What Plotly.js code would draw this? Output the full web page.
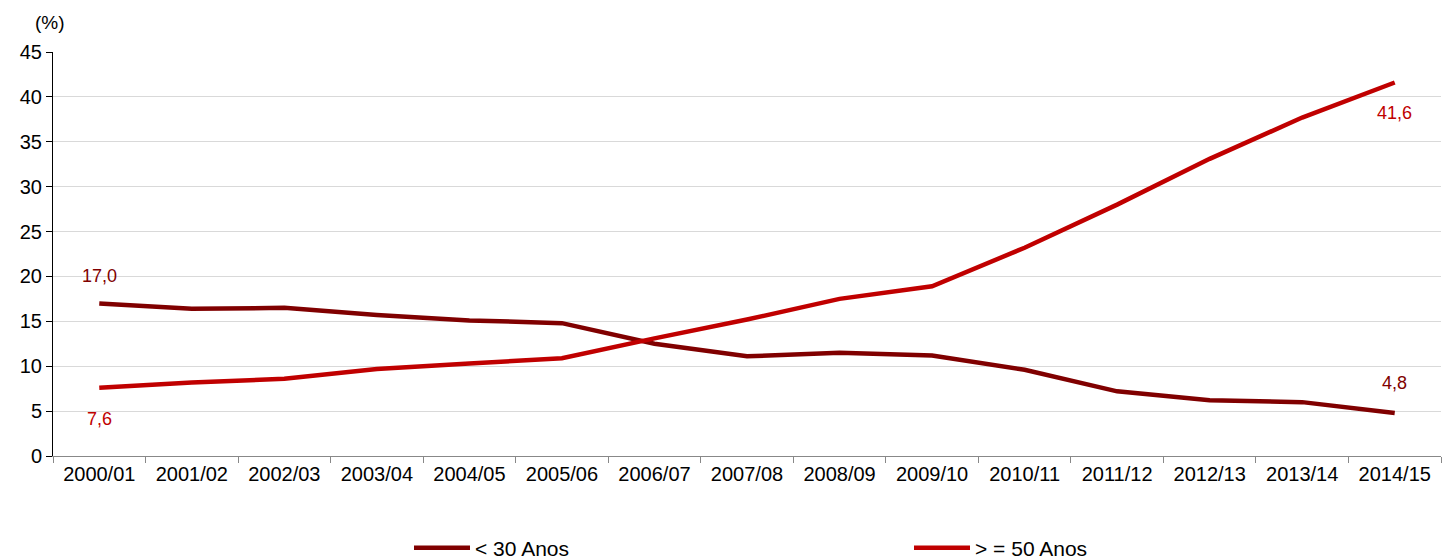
<!DOCTYPE html>
<html>
<head>
<meta charset="utf-8">
<script src="https://cdn.plot.ly/plotly-3.0.1.min.js"></script>
<style>html,body{margin:0;padding:0;background:#fff;}#chart{width:1442px;height:560px;}</style>
</head>
<body>
<div id="chart"></div>
<script>
var categories = ["2000/01","2001/02","2002/03","2003/04","2004/05","2005/06","2006/07","2007/08","2008/09","2009/10","2010/11","2011/12","2012/13","2013/14","2014/15"];
var under30 = [17.0,16.4,16.5,15.7,15.1,14.8,12.5,11.1,11.5,11.2,9.6,7.2,6.2,6.0,4.8];
var over50 = [7.6,8.2,8.6,9.7,10.3,10.9,13.1,15.2,17.5,18.9,23.2,28.0,33.1,37.7,41.6];
var seriesNames = ["< 30 Anos", "> = 50 Anos"];
var yTicks = [0,5,10,15,20,25,30,35,40,45];

var darkRed = "#800000";
var red = "#C00000";
var font = "Liberation Sans, Arial, sans-serif";

function fmt(v){ return v.toFixed(1).replace(".", ","); }
var last = categories.length - 1;

var traces = [
  {x: categories, y: under30, name: seriesNames[0], type: "scatter", mode: "lines",
   line: {color: darkRed, width: 4.5}, legend: "legend"},
  {x: categories, y: over50, name: seriesNames[1], type: "scatter", mode: "lines",
   line: {color: red, width: 4.5}, legend: "legend2"}
];

var annotations = [
  {x: categories[0], y: under30[0], text: fmt(under30[0]), showarrow: false, yshift: 27, font: {family: font, size: 18, color: darkRed}},
  {x: categories[last], y: under30[last], text: fmt(under30[last]), showarrow: false, yshift: 30, font: {family: font, size: 18, color: darkRed}},
  {x: categories[0], y: over50[0], text: fmt(over50[0]), showarrow: false, yshift: -31, font: {family: font, size: 18, color: red}},
  {x: categories[last], y: over50[last], text: fmt(over50[last]), showarrow: false, yshift: -30, font: {family: font, size: 18, color: red}},
  {xref: "paper", yref: "paper", x: -0.002, y: 1.074, text: "(%)", showarrow: false, xanchor: "center", yanchor: "middle", font: {family: font, size: 19, color: "#000"}}
];

function legendAt(px){
  return {xref: "container", yref: "container", x: px / 1442, y: 12 / 560, xanchor: "left", yanchor: "middle",
          orientation: "h", itemwidth: 56, bgcolor: "rgba(0,0,0,0)",
          font: {family: font, size: 21, color: "#000"}};
}

var layout = {
  width: 1442, height: 560,
  margin: {l: 53, r: 1, t: 52, b: 104, autoexpand: false},
  paper_bgcolor: "#fff", plot_bgcolor: "#fff",
  showlegend: true,
  legend: legendAt(409),
  legend2: legendAt(909),
  xaxis: {type: "category", range: [-0.5, 14.5], tickson: "boundaries", ticks: "outside", ticklen: 6,
          tickcolor: "#888", showline: true, linecolor: "#888", linewidth: 1, showgrid: false, zeroline: false,
          tickfont: {family: font, size: 20, color: "#000"}, fixedrange: true},
  yaxis: {range: [0, 45], tickvals: yTicks, ticks: "outside", ticklen: 6, tickcolor: "#000",
          showline: true, linecolor: "#000", linewidth: 1, showgrid: true, gridcolor: "#d9d9d9", gridwidth: 1,
          zeroline: false, tickfont: {family: font, size: 20, color: "#000"}, fixedrange: true},
  annotations: annotations
};

Plotly.newPlot("chart", traces, layout, {displayModeBar: false, staticPlot: true});
</script>
</body>
</html>
